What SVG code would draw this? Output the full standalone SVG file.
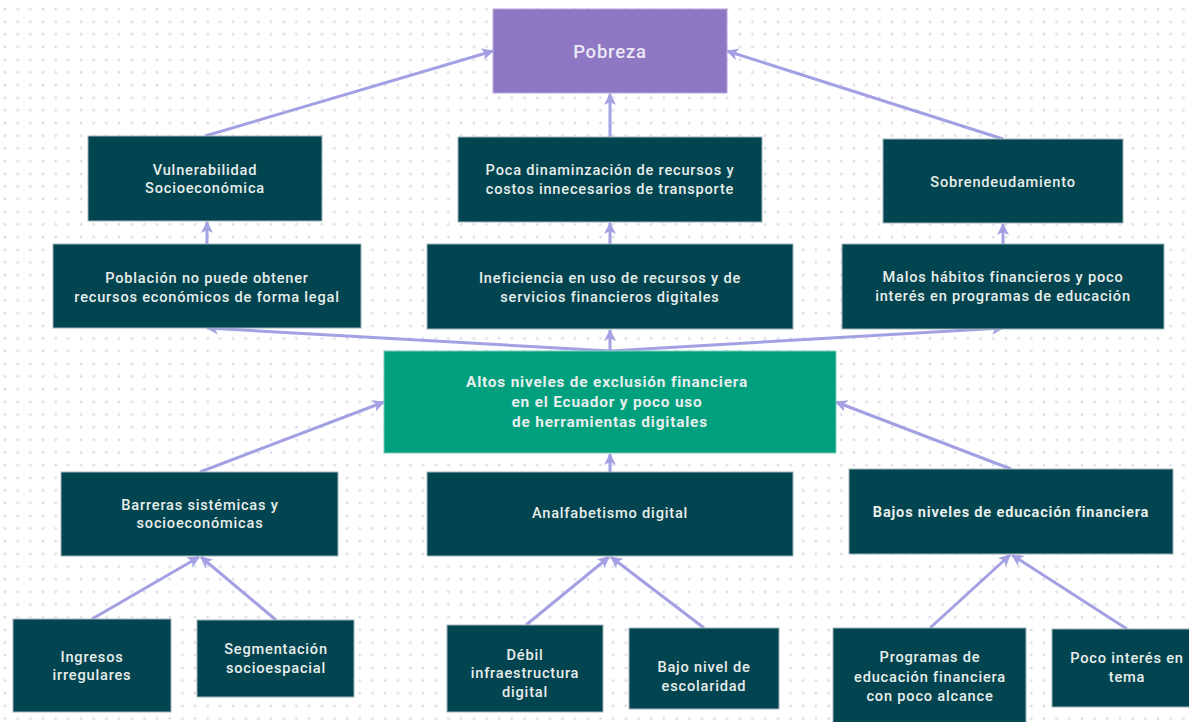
<svg xmlns="http://www.w3.org/2000/svg" width="1189" height="722" viewBox="0 0 1189 722">
  <defs>
    <pattern id="grid" x="5" y="9" width="12.67" height="12.67" patternUnits="userSpaceOnUse">
      <path d="M0 -1.5V1.5M-1.5 0H1.5" stroke="#d2d2e0" stroke-width="1"/>
      <path d="M12.67 -1.5V1.5M11.17 0H14.17M0 11.17V14.17M-1.5 12.67H1.5M12.67 11.17V14.17M11.17 12.67H14.17" stroke="#d2d2e0" stroke-width="1"/>
    </pattern>
    <marker id="arrow" viewBox="0 0 12 12" refX="11" refY="6" markerWidth="12" markerHeight="12" markerUnits="userSpaceOnUse" orient="auto">
      <path d="M0 0L12 6L0 12L3 6Z" fill="#a3a0e3"/>
    </marker>
    <style>
      .box { fill: #02444f; stroke: #9fb5b9; stroke-width: 1; }
      .t { font-family: Roboto, "Liberation Sans", sans-serif; font-size: 14.6px; font-weight: 500; letter-spacing: 0.8px; fill: #e8eeec; text-anchor: middle; }
      .b { font-weight: 700; }
      .lg { font-size: 15.4px; }
      .edge { stroke: #a3a0e3; stroke-width: 3; fill: none; marker-end: url(#arrow); }
    </style>
  </defs>

  <rect width="1189" height="722" fill="#ffffff"/>
  <rect width="1189" height="722" fill="url(#grid)"/>

  <!-- connectors: causes point upward to their effects -->
  <g id="connectors">
    <line class="edge" x1="205" y1="136" x2="493" y2="51"/>
    <line class="edge" x1="610" y1="137" x2="610" y2="94"/>
    <line class="edge" x1="1003" y1="139" x2="727" y2="51"/>
    <line class="edge" x1="207" y1="244" x2="207" y2="222"/>
    <line class="edge" x1="610" y1="244" x2="610" y2="223"/>
    <line class="edge" x1="1003" y1="244" x2="1003" y2="224"/>
    <line class="edge" x1="610" y1="351" x2="207" y2="328"/>
    <line class="edge" x1="610" y1="351" x2="610" y2="330"/>
    <line class="edge" x1="610" y1="351" x2="1003" y2="328"/>
    <line class="edge" x1="200" y1="472" x2="384" y2="402"/>
    <line class="edge" x1="610" y1="472" x2="610" y2="454"/>
    <line class="edge" x1="1011" y1="469" x2="836" y2="402"/>
    <line class="edge" x1="92" y1="619" x2="199" y2="557"/>
    <line class="edge" x1="276" y1="620" x2="201" y2="557"/>
    <line class="edge" x1="526" y1="625" x2="609" y2="557"/>
    <line class="edge" x1="704" y1="628" x2="611" y2="557"/>
    <line class="edge" x1="930" y1="628" x2="1010" y2="555"/>
    <line class="edge" x1="1127" y1="629" x2="1012" y2="555"/>
  </g>

  <g id="pobreza">
    <rect x="493" y="9" width="234" height="84" fill="#8e78c3" stroke="#b7a9de" stroke-width="1"/>
    <text class="t" x="610" y="58" style="font-size:18.5px;font-weight:500;fill:#ece8f6">Pobreza</text>
  </g>

  <g id="vulnerabilidad">
    <rect class="box" x="88" y="136" width="234" height="85"/>
    <text class="t" x="205" y="175">Vulnerabilidad</text>
    <text class="t" x="205" y="193">Socioeconómica</text>
  </g>

  <g id="dinamizacion">
    <rect class="box" x="458" y="137" width="304" height="85"/>
    <text class="t" x="610" y="175">Poca dinaminzación de recursos y</text>
    <text class="t" x="610" y="194">costos innecesarios de transporte</text>
  </g>

  <g id="sobrendeudamiento">
    <rect class="box" x="883" y="139" width="240" height="84"/>
    <text class="t" x="1003" y="187">Sobrendeudamiento</text>
  </g>

  <g id="poblacion">
    <rect class="box" x="53" y="244" width="308" height="84"/>
    <text class="t" x="207" y="283">Población no puede obtener</text>
    <text class="t" x="207" y="302">recursos económicos de forma legal</text>
  </g>

  <g id="ineficiencia">
    <rect class="box" x="427" y="244" width="366" height="85"/>
    <text class="t" x="610" y="283">Ineficiencia en uso de recursos y de</text>
    <text class="t" x="610" y="302">servicios financieros digitales</text>
  </g>

  <g id="malos-habitos">
    <rect class="box" x="842" y="244" width="322" height="85"/>
    <text class="t" x="1003" y="282">Malos hábitos financieros y poco</text>
    <text class="t" x="1003" y="301">interés en programas de educación</text>
  </g>

  <g id="exclusion">
    <rect x="384" y="351" width="452" height="102" fill="#00a07f" stroke="#7fcdb9" stroke-width="1"/>
    <text class="t b lg" x="607" y="387">Altos niveles de exclusión financiera</text>
    <text class="t b lg" x="607" y="407">en el Ecuador y poco uso</text>
    <text class="t b lg" x="610" y="427">de herramientas digitales</text>
  </g>

  <g id="barreras">
    <rect class="box" x="61" y="472" width="277" height="84"/>
    <text class="t" x="200" y="510">Barreras sistémicas y</text>
    <text class="t" x="200" y="528">socioeconómicas</text>
  </g>

  <g id="analfabetismo">
    <rect class="box" x="427" y="472" width="366" height="84"/>
    <text class="t" x="610" y="518">Analfabetismo digital</text>
  </g>

  <g id="educacion-financiera">
    <rect class="box" x="849" y="469" width="324" height="85"/>
    <text class="t b" x="1011" y="517">Bajos niveles de educación financiera</text>
  </g>

  <g id="ingresos">
    <rect class="box" x="13" y="619" width="158" height="93"/>
    <text class="t" x="92" y="662">Ingresos</text>
    <text class="t" x="92" y="680">irregulares</text>
  </g>

  <g id="segmentacion">
    <rect class="box" x="197" y="620" width="157" height="77"/>
    <text class="t" x="276" y="654">Segmentación</text>
    <text class="t" x="276" y="673">socioespacial</text>
  </g>

  <g id="infraestructura">
    <rect class="box" x="447" y="625" width="156" height="87"/>
    <text class="t" x="525" y="660">Débil</text>
    <text class="t" x="525" y="678">infraestructura</text>
    <text class="t" x="525" y="697">digital</text>
  </g>

  <g id="escolaridad">
    <rect class="box" x="629" y="628" width="150" height="81"/>
    <text class="t" x="704" y="672">Bajo nivel de</text>
    <text class="t" x="704" y="691">escolaridad</text>
  </g>

  <g id="programas">
    <rect class="box" x="833" y="628" width="193" height="100"/>
    <text class="t" x="930" y="662">Programas de</text>
    <text class="t" x="930" y="682">educación financiera</text>
    <text class="t" x="930" y="701">con poco alcance</text>
  </g>

  <g id="poco-interes">
    <rect class="box" x="1052" y="629" width="140" height="78"/>
    <text class="t" x="1127" y="663">Poco interés en</text>
    <text class="t" x="1127" y="682">tema</text>
  </g>
</svg>
